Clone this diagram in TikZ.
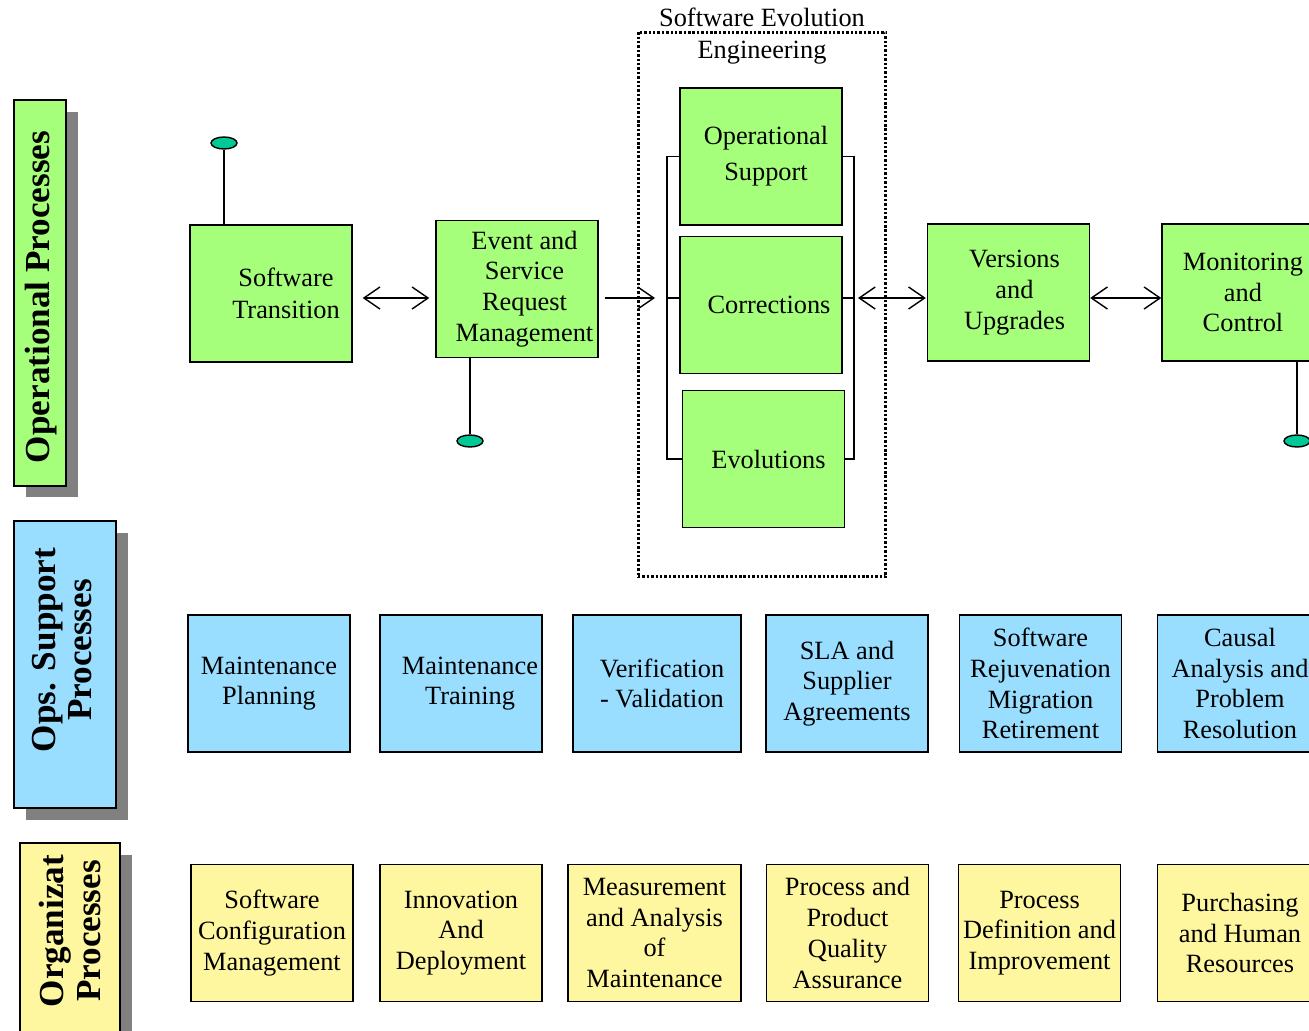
\documentclass[tikz,border=0pt]{standalone}
\usepackage{fontspec}
\setmainfont{Liberation Serif}
\usetikzlibrary{arrows.meta,shapes.geometric,positioning}
\definecolor{OpsGreen}{HTML}{A6FF7A}
\definecolor{SupBlue}{HTML}{99DDFF}
\definecolor{OrgYellow}{HTML}{FFF7A0}
\definecolor{DotTeal}{HTML}{00C896}
\definecolor{ShadowGray}{HTML}{808080}

\begin{document}
\begin{tikzpicture}[
      x=0.02cm,y=-0.02cm,
      font=\fontsize{15}{17.5}\selectfont,
      >={Straight Barb[length=0.32cm,width=0.44cm]},
      procbox/.style={draw=black,line width=0.8pt,minimum width=3.24cm,minimum height=2.74cm,align=center,inner sep=1pt},
      opbox/.style={procbox,fill=OpsGreen},
      supbox/.style={procbox,fill=SupBlue},
      orgbox/.style={procbox,fill=OrgYellow},
      sidebox/.style={draw=black,line width=0.8pt},
      sidelabel/.style={rotate=90,align=center,inner sep=0pt,font=\fontsize{20}{21}\bfseries\selectfont},
      shade/.style={fill=ShadowGray},
      link/.style={line width=0.8pt},
      dot/.style={ellipse,draw=black,fill=DotTeal,line width=0.8pt,minimum width=0.52cm,minimum height=0.24cm,inner sep=0pt}
    ]
      \useasboundingbox (0,0) rectangle (1309,1031);
      \clip (0,0) rectangle (1309,1031);

      % side labels
      \fill[shade] (26,112) rectangle (78,497);
      \draw[sidebox,fill=OpsGreen] (14,100) rectangle (66,486);
      \node[sidelabel] (oplab) at (41,297) {Operational Processes};
      \fill[shade] (26,533) rectangle (128,820);
      \draw[sidebox,fill=SupBlue] (14,521) rectangle (116,808);
      \node[sidelabel] (suplab) at (62,650) {Ops. Support\\Processes};
      \fill[shade] (32,855) rectangle (132,1045);
      \draw[sidebox,fill=OrgYellow] (20,843) rectangle (120,1045);
      \node[sidelabel] (orglab) at (70,931) {Organizat\\Processes};

      % software evolution engineering
      \node[draw=black,line width=1.7pt,dash pattern=on 1.4pt off 1.1pt,minimum width=4.96cm,minimum height=10.9cm] (seframe) at (762,304.5) {};
      \node[align=center,inner sep=0pt,font=\fontsize{15}{18}\selectfont] (setitle) at (762,36) {Software Evolution\\Engineering};

      % operational processes
      \node[opbox,font=\fontsize{15}{18.5}\selectfont] (st) at (271,293.5) {\hspace*{0.6cm}Software\\\hspace*{0.6cm}Transition};
      \node[opbox] (ev) at (517,289) {\hspace*{0.3cm}Event and\\\hspace*{0.3cm}Service\\\hspace*{0.3cm}Request\\\hspace*{0.3cm}Management};
      \node[opbox] (opsup) at (761,156.5) {\hspace*{0.2cm}Operational\\[3pt]\hspace*{0.2cm}Support};
      \node[opbox] (cor) at (761,305) {\hspace*{0.32cm}Corrections};
      \node[opbox] (evo) at (763.5,459) {\hspace*{0.2cm}Evolutions};
      \node[opbox] (ver) at (1008.5,292.5) {\hspace*{0.24cm}Versions\\\hspace*{0.24cm}and\\\hspace*{0.24cm}Upgrades};
      \node[opbox] (mon) at (1243,292.5) {Monitoring\\and\\Control};

      \coordinate (axis) at (0,298);
      \coordinate (brl) at (667,298);
      \coordinate (brr) at (854,298);
      \draw[link] (opsup.west) -| (brl) |- (evo.west);
      \draw[link] (cor.west |- brl) -- (brl);
      \draw[link] (opsup.east) -| (brr) |- (evo.east);
      \draw[link] (cor.east |- brr) -- (brr);

      \draw[link,<->,shorten <=0.2cm,shorten >=0.12cm] (st.east |- axis) -- (ev.west |- axis);
      \draw[link,->,shorten <=0.12cm,shorten >=0.24cm] (ev.east |- axis) -- (brl);
      \draw[link,<->,shorten <=0.08cm,shorten >=0.02cm] (brr) -- (ver.west |- axis);
      \draw[link,<->] (ver.east |- axis) -- (mon.west |- axis);

      \node[dot] (dst) at (224,143) {};
      \node[dot] (dev) at (470,441) {};
      \node[dot] (dmon) at (1297,441) {};
      \draw[link] (dst) -- (dst |- st.north);
      \draw[link] (dev |- ev.south) -- (dev);
      \draw[link] (dmon |- mon.south) -- (dmon);

      % ops support processes
      \node[supbox] (mp) at (269,683.5) {Maintenance\\Planning};
      \node[supbox] (mt) at (461,683.5) {\hspace*{0.36cm}Maintenance\\\hspace*{0.36cm}Training};
      \node[supbox,minimum width=3.36cm] (vv) at (657,683.5) {\hspace*{0.2cm}Verification\\\hspace*{0.2cm}- Validation};
      \node[supbox] (sla) at (847,683.5) {SLA and\\Supplier\\Agreements};
      \node[supbox] (rej) at (1040.5,683.5) {Software\\Rejuvenation\\Migration\\Retirement};
      \node[supbox,minimum width=3.3cm] (cau) at (1240,683.5) {Causal\\Analysis and\\Problem\\Resolution};

      % organizational processes
      \node[orgbox] (scm) at (272,933) {Software\\Configuration\\Management};
      \node[orgbox] (inn) at (461,933) {Innovation\\And\\Deployment};
      \node[orgbox,minimum width=3.46cm] (mea) at (654.5,933) {Measurement\\and Analysis\\of\\Maintenance};
      \node[orgbox] (ppq) at (847.5,933) {Process and\\Product\\Quality\\Assurance};
      \node[orgbox] (pdi) at (1039.5,933) {Process\\Definition and\\Improvement};
      \node[orgbox,minimum width=3.3cm] (pur) at (1240,933) {Purchasing\\and Human\\Resources};
    \end{tikzpicture}
\end{document}
